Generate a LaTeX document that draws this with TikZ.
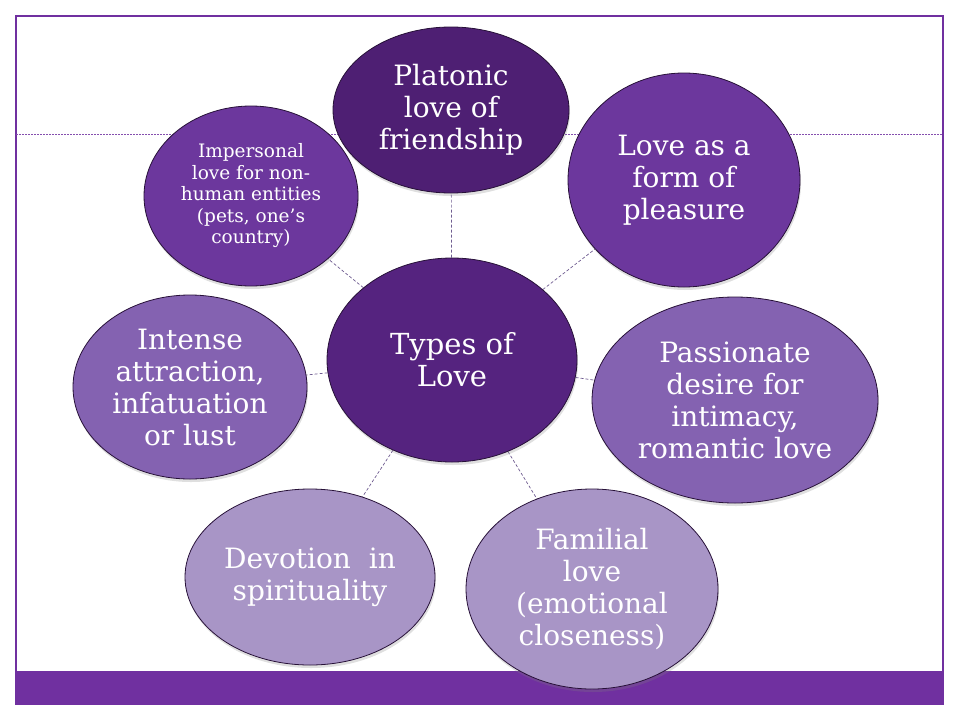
\documentclass[tikz,border=0pt]{standalone}
\usepackage{fontspec}
\setmainfont{DejaVu Serif}
\usetikzlibrary{shapes.geometric, shadows}
\usetikzlibrary{backgrounds}
\definecolor{slidepurple}{HTML}{7030A0}
\definecolor{deeppurple}{HTML}{4E1F73}
\definecolor{hubpurple}{HTML}{55237F}
\definecolor{midpurple}{HTML}{6C379D}
\definecolor{softpurple}{HTML}{8462B1}
\definecolor{palepurple}{HTML}{A895C6}
\definecolor{linkgray}{HTML}{6E5C90}
\tikzstyle{bubble} = [ellipse, align=center, text=white, draw=black!65!slidepurple, line width=0.8pt, inner sep=0pt, font=\fontsize{28}{32}\selectfont, drop shadow={opacity=0.25, shadow xshift=1pt, shadow yshift=-3pt}]
\tikzstyle{link} = [draw=linkgray, dash pattern=on 3pt off 2pt, line width=0.7pt]

\begin{document}
\begin{tikzpicture}[x=1pt, y=-1pt]
\useasboundingbox (0,0) rectangle (960,720);

\node (hub) [bubble, fill=hubpurple, minimum width=250pt, minimum height=204pt, font=\fontsize{29}{32}\selectfont] at (452,360) {Types of\\Love};
\node (platonic) [bubble, fill=deeppurple, minimum width=236pt, minimum height=166pt] at (451,110) {Platonic\\love of\\friendship};
\node (pleasure) [bubble, fill=midpurple, minimum width=232pt, minimum height=214pt] at (684,180) {Love as a\\form of\\pleasure};
\node (passion) [bubble, fill=softpurple, minimum width=286pt, minimum height=206pt] at (735,400) {Passionate\\desire for\\intimacy,\\romantic love};
\node (familial) [bubble, fill=palepurple, minimum width=252pt, minimum height=200pt] at (592,589) {Familial\\love\\(emotional\\closeness)};
\node (devotion) [bubble, fill=palepurple, minimum width=250pt, minimum height=176pt] at (310,577) {Devotion\ \ in\\spirituality};
\node (lust) [bubble, fill=softpurple, minimum width=234pt, minimum height=184pt] at (190,387) {Intense\\attraction,\\infatuation\\or lust};
\node (impersonal) [bubble, fill=midpurple, minimum width=214pt, minimum height=180pt, font=\fontsize{18.5}{21.5}\selectfont] at (251,196) {Impersonal\\love for non-\\human entities\\(pets, one’s\\country)};

\begin{scope}[on background layer]
% slide frame
\fill [slidepurple] (16,671) rectangle (943,704);
\draw [slidepurple, line width=1.2pt] (16,16) rectangle (943,704);
\draw [slidepurple!85, dash pattern=on 2pt off 1pt, line width=0.6pt] (16,134) -- (943,134);
% spokes
\foreach \leaf in {platonic, pleasure, passion, familial, devotion, lust, impersonal}
  \draw [link] (hub) -- (\leaf);
\end{scope}

\end{tikzpicture}
\end{document}
